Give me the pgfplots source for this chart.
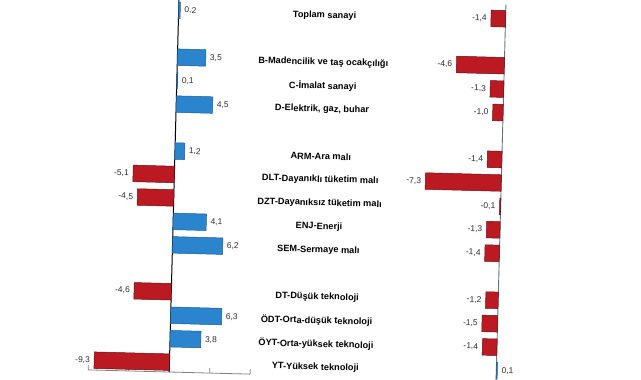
\documentclass[border=0pt]{standalone}
\usepackage{pgfplots}
\pgfplotsset{compat=1.18}
\usepackage{pgfplotstable}
\usepackage{fontspec}
\setmainfont{Liberation Sans}
\definecolor{barblue}{RGB}{42,132,206}
\definecolor{barblueedge}{RGB}{25,90,150}
\definecolor{barred}{RGB}{188,26,34}
\definecolor{barrededge}{RGB}{105,12,16}
\definecolor{vallab}{RGB}{45,45,45}
\definecolor{zeroline}{RGB}{105,115,125}

\pgfplotstableread{
pos val
0 0.2
2 3.5
3 0.1
4 4.5
6 1.2
9 4.1
10 6.2
13 6.3
14 3.8
}\leftpos
\pgfplotstableread{
pos val
7 -5.1
8 -4.5
12 -4.6
15 -9.3
}\leftneg
\pgfplotstableread{
pos val
0 -1.4
2 -4.6
3 -1.3
4 -1.0
6 -1.4
7 -7.3
8 -0.1
9 -1.3
10 -1.4
12 -1.2
13 -1.5
14 -1.4
}\rightneg
\pgfplotstableread{
pos val
15 0.1
}\rightpos

\pgfplotsset{
  valstyle/.style={
    nodes near coords,
    every node near coord/.append style={font=\fontsize{8.5}{9}\selectfont, text=vallab, inner sep=1.5pt},
    /pgf/number format/fixed, /pgf/number format/fixed zerofill, /pgf/number format/precision=1,
    /pgf/number format/use comma, /pgf/number format/assume math mode=true,
  },
  posbar/.style={xbar, bar width=16.5pt, bar shift=0pt, fill=barblue, draw=barblueedge, line width=0.5pt,
    valstyle, nodes near coords align={right}, every node near coord/.append style={xshift=2.5pt}},
  negbar/.style={xbar, bar width=16.5pt, bar shift=0pt, fill=barred, draw=barrededge, line width=0.5pt,
    valstyle, nodes near coords align={left}, every node near coord/.append style={xshift=-2.5pt}},
}
\tikzset{catlab/.style={font=\bfseries\fontsize{9.2}{10}\selectfont, text=black, anchor=center, yshift=-1.5pt}}

\begin{document}
\begin{tikzpicture}
\useasboundingbox (0pt,0pt) rectangle (641pt,380pt);
\begin{scope}[transform canvas={rotate around={-1.5:(320pt,190pt)}}]
\begin{axis}[
  at={(93pt,382.4pt)}, anchor=north west,
  scale only axis, width=162pt, height=378.3pt,
  xmin=-10, xmax=10, ymin=-0.7, ymax=15.42, y dir=reverse,
  axis x line=bottom, axis y line=center,
  axis line style={-},
  x axis line style={draw=gray, line width=0.8pt},
  y axis line style={draw=black, line width=1pt},
  xtick={-10,-5,0,5,10}, xticklabels={}, ytick=\empty,
  tick align=inside, major tick length=5pt,
  xtick style={draw=gray, line width=0.8pt},
  clip=false,
]
\addplot[posbar] table[x=val,y=pos] {\leftpos};
\addplot[negbar] table[x=val,y=pos] {\leftneg};
\node[catlab] at (axis cs:18.02,0) {Toplam sanayi};
\node[catlab] at (axis cs:18.02,2) {B-Madencilik ve taş ocakçılığı};
\node[catlab] at (axis cs:18.02,3) {C-İmalat sanayi};
\node[catlab] at (axis cs:18.02,4) {D-Elektrik, gaz, buhar};
\node[catlab] at (axis cs:18.02,6) {ARM-Ara malı};
\node[catlab] at (axis cs:18.02,7) {DLT-Dayanıklı tüketim malı};
\node[catlab] at (axis cs:18.02,8) {DZT-Dayanıksız tüketim malı};
\node[catlab] at (axis cs:18.02,9) {ENJ-Enerji};
\node[catlab] at (axis cs:18.02,10) {SEM-Sermaye malı};
\node[catlab] at (axis cs:18.02,12) {DT-Düşük teknoloji};
\node[catlab] at (axis cs:18.02,13) {ÖDT-Orta-düşük teknoloji};
\node[catlab] at (axis cs:18.02,14) {ÖYT-Orta-yüksek teknoloji};
\node[catlab] at (axis cs:18.02,15) {YT-Yüksek teknoloji};
\end{axis}
\begin{axis}[
  at={(417.8pt,380.08pt)}, anchor=north west,
  scale only axis, width=93.6pt, height=389.6pt,
  xmin=-8, xmax=1, ymin=-0.6, ymax=16, y dir=reverse,
  axis x line=none, axis y line=center,
  axis line style={-},
  y axis line style={draw=zeroline, line width=0.9pt},
  xtick=\empty, ytick=\empty,
  clip=false,
]
\addplot[negbar] table[x=val,y=pos] {\rightneg};
\addplot[posbar] table[x=val,y=pos] {\rightpos};
\end{axis}
\end{scope}
\end{tikzpicture}
\end{document}
